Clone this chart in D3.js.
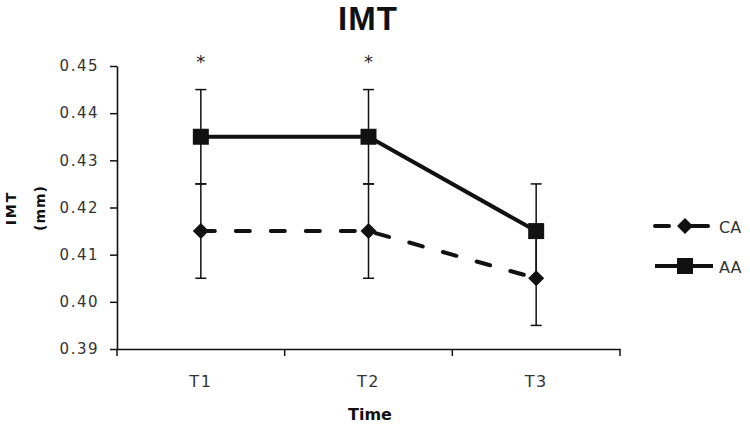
<!DOCTYPE html>
<html>
<head>
<meta charset="utf-8">
<script src="https://cdn.jsdelivr.net/npm/d3@7/dist/d3.min.js"></script>
<style>
  html, body { margin: 0; padding: 0; background: #fff; }
  svg { display: block; font-family: 'DejaVu Sans', Verdana, sans-serif; }
</style>
</head>
<body>
<svg id="chart" width="750" height="424"></svg>
<script>
// ---- data ----
const categories = ['T1', 'T2', 'T3'];
const caValues = [0.415, 0.415, 0.405];
const caErrors = [0.01, 0.01, 0.01];
const aaValues = [0.435, 0.435, 0.415];
const aaErrors = [0.01, 0.01, 0.01];
const significance = ['*', '*', ''];
const yTicks = [0.39, 0.40, 0.41, 0.42, 0.43, 0.44, 0.45];

const svg = d3.select('#chart');
const ink = '#111';

const x = d3.scaleBand().domain(categories).range([117, 620]);
const y = d3.scaleLinear().domain([0.39, 0.45]).range([349, 66]);
const cx = d => x(d) + x.bandwidth() / 2;

// title
svg.append('text')
  .attr('x', 368).attr('y', 30)
  .attr('text-anchor', 'middle')
  .attr('font-family', "'Liberation Sans', Arial, sans-serif")
  .attr('font-size', 33).attr('font-weight', 'bold')
  .attr('letter-spacing', 1)
  .attr('fill', ink)
  .text('IMT');

// y axis
const yAxis = svg.append('g')
  .attr('transform', 'translate(117,0)')
  .call(d3.axisLeft(y).tickValues(yTicks).tickFormat(d3.format('.2f')).tickSize(7).tickSizeOuter(0));
yAxis.select('.domain').attr('stroke', ink).attr('stroke-width', 1.6);
yAxis.selectAll('.tick line').attr('stroke', ink).attr('stroke-width', 1.5);
yAxis.selectAll('.tick text')
  .attr('font-size', 15).attr('fill', '#333')
  .attr('letter-spacing', 1.5)
  .attr('x', -18)
  .attr('font-family', "'DejaVu Sans', sans-serif");

// x axis
const xAxis = svg.append('g')
  .attr('transform', 'translate(0,349)')
  .call(d3.axisBottom(x).tickSize(0).tickSizeOuter(0));
xAxis.select('.domain').attr('stroke', ink).attr('stroke-width', 1.6);
xAxis.selectAll('.tick text')
  .attr('font-size', 16).attr('fill', '#333')
  .attr('letter-spacing', 1.5)
  .attr('dy', null)
  .attr('y', 38)
  .attr('font-family', "'DejaVu Sans', sans-serif");
// band boundary ticks
const bounds = categories.map(c => x(c)).concat([x(categories[categories.length - 1]) + x.bandwidth()]);
xAxis.selectAll('.bound')
  .data(bounds)
  .join('line')
  .attr('class', 'bound')
  .attr('x1', d => d).attr('x2', d => d)
  .attr('y1', 0).attr('y2', 7)
  .attr('stroke', ink).attr('stroke-width', 1.5);

// axis titles
svg.append('text')
  .attr('x', 370).attr('y', 420)
  .attr('text-anchor', 'middle')
  .attr('font-size', 16).attr('font-weight', 'bold')
  .attr('fill', ink)
  .text('Time');

const yLab = svg.append('g').attr('transform', 'translate(0,208) rotate(-90)');
yLab.append('text')
  .attr('x', 0).attr('y', 16)
  .attr('text-anchor', 'middle')
  .attr('font-size', 14).attr('font-weight', 'bold').attr('fill', ink)
  .attr('letter-spacing', 2)
  .text('IMT');
yLab.append('text')
  .attr('x', 0).attr('y', 45)
  .attr('text-anchor', 'middle')
  .attr('font-size', 14).attr('font-weight', 'bold').attr('fill', ink)
  .attr('letter-spacing', 1)
  .text('(mm)');

// series
const series = [
  { name: 'CA', values: caValues, errors: caErrors, dash: '14,21', marker: 'diamond' },
  { name: 'AA', values: aaValues, errors: aaErrors, dash: null, marker: 'square' }
];

const line = d3.line().x(d => cx(d.cat)).y(d => y(d.v));

// error bars
series.forEach(s => {
  const pts = categories.map((c, i) => ({ cat: c, v: s.values[i], e: s.errors[i] }));
  const eb = svg.append('g');
  eb.selectAll('line.v').data(pts).join('line').attr('class', 'v')
    .attr('x1', d => cx(d.cat)).attr('x2', d => cx(d.cat))
    .attr('y1', d => y(d.v - d.e)).attr('y2', d => y(d.v + d.e))
    .attr('stroke', ink).attr('stroke-width', 1.5);
  [-1, 1].forEach(sgn => {
    eb.selectAll('line.c' + (sgn > 0 ? 'p' : 'm')).data(pts).join('line')
      .attr('class', 'c' + (sgn > 0 ? 'p' : 'm'))
      .attr('x1', d => cx(d.cat) - 5.5).attr('x2', d => cx(d.cat) + 5.5)
      .attr('y1', d => y(d.v + sgn * d.e)).attr('y2', d => y(d.v + sgn * d.e))
      .attr('stroke', ink).attr('stroke-width', 1.5);
  });
});

const diamond = 'M0,-8L8,0L0,8L-8,0Z';
const square = 'M-8,-8H8V8H-8Z';

series.forEach(s => {
  const pts = categories.map((c, i) => ({ cat: c, v: s.values[i] }));
  svg.append('path')
    .datum(pts)
    .attr('d', line)
    .attr('fill', 'none')
    .attr('stroke', ink)
    .attr('stroke-width', 4)
    .attr('stroke-linecap', s.dash ? 'round' : 'butt')
    .attr('stroke-dasharray', s.dash);
  svg.selectAll('.m' + s.name).data(pts).join('path')
    .attr('class', 'm' + s.name)
    .attr('transform', d => `translate(${cx(d.cat)},${y(d.v)})`)
    .attr('d', s.marker === 'diamond' ? diamond : square)
    .attr('fill', ink);
});

// significance stars
svg.selectAll('.star')
  .data(categories.map((c, i) => ({ cat: c, s: significance[i] })))
  .join('text')
  .attr('class', 'star')
  .attr('x', d => cx(d.cat))
  .attr('y', y(0.45) + 2)
  .attr('text-anchor', 'middle')
  .attr('font-size', 18).attr('fill', '#222')
  .text(d => d.s);

// legend
const legend = svg.append('g').attr('transform', 'translate(655,226)');
series.forEach((s, i) => {
  const g = legend.append('g').attr('transform', `translate(0,${i * 40})`);
  g.append('line')
    .attr('x1', 0).attr('x2', s.dash ? 53 : 58)
    .attr('y1', 0).attr('y2', 0)
    .attr('stroke', ink).attr('stroke-width', 4)
    .attr('stroke-linecap', s.dash ? 'round' : 'butt')
    .attr('stroke-dasharray', s.dash ? '14,16,30' : null);
  g.append('path')
    .attr('transform', 'translate(30,0)')
    .attr('d', s.marker === 'diamond' ? diamond : square)
    .attr('fill', ink);
  g.append('text')
    .attr('x', 64).attr('y', 7)
    .attr('font-size', 16).attr('fill', '#333')
    .text(s.name);
});
</script>
</body>
</html>
